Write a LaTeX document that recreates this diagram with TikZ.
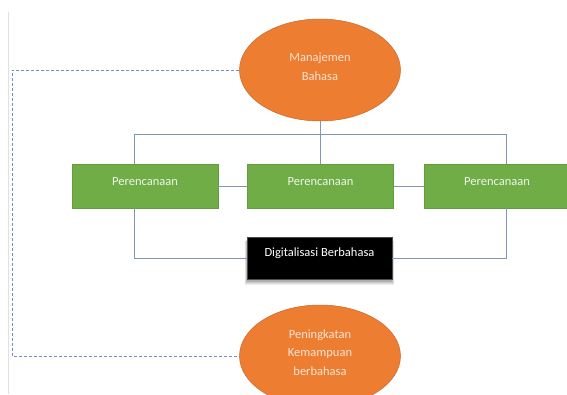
\documentclass[tikz,border=0pt]{standalone}
\usepackage{fontspec}
\setmainfont{Carlito}
\usetikzlibrary{shapes.geometric}
\definecolor{offorange}{HTML}{ED7D31}
\definecolor{offorangedk}{HTML}{C9682A}
\definecolor{offgreen}{HTML}{70AD47}
\definecolor{linecol}{HTML}{7F97B5}
\definecolor{dashcol}{HTML}{6F8CC4}
\definecolor{elltext}{HTML}{FCE4D6}
\definecolor{boxtext}{HTML}{EEF5E8}
\tikzset{
  ell/.style={ellipse, fill=offorange, draw=offorangedk, line width=0.5pt, minimum width=161pt, minimum height=102pt, inner sep=0pt},
  gbox/.style={rectangle, fill=offgreen, draw=offgreen!90!black, line width=0.4pt, minimum width=146pt, minimum height=44pt, inner sep=0pt},
  dbox/.style={rectangle, fill=black, draw=black!70, line width=0.4pt, minimum width=145pt, minimum height=42pt, inner sep=0pt},
  softshadow/.style={fill=black, opacity=0.07},
  txt/.style={align=center, font=\fontsize{12.5}{18.5}\selectfont, inner sep=0pt},
  conn/.style={draw=linecol, line width=0.8pt},
  dconn/.style={draw=dashcol, line width=0.7pt, dash pattern=on 3pt off 2pt}
}
\begin{document}
\begin{tikzpicture}[x=1pt,y=-1pt]
\useasboundingbox (0,0) rectangle (567,394);
\clip (0,0) rectangle (567,394);
\fill[white] (0,0) rectangle (567,394);
% faint page edge
\draw[draw=black!12, line width=0.8pt] (8,12) -- (8,394);

% soft shadow under the black box
\foreach \e in {0,1,2,3,4}{
  \fill[softshadow] (247.0-\e*0.6,239+\e*0.5) rectangle (392.0+\e*0.6,281.5+\e*0.8);
}

% shapes
\node[ell] (top) at (320,70) {};
\node[ell] (bot) at (320,356) {};
\node[gbox] (L) at (145,186) {};
\node[gbox] (M) at (320.5,186) {};
\node[gbox] (R) at (497,186) {};
\node[dbox] (D) at (319.5,258) {};

% texts
\node[txt, text=elltext] (topt) at ([yshift=3.5pt]top.center) {Manajemen\\Bahasa};
\node[txt, text=elltext] (bott) at ([yshift=3.5pt]bot.center) {Peningkatan\\Kemampuan\\berbahasa};
\node[txt, text=boxtext] (Lt) at ([yshift=4.5pt]L.center) {Perencanaan};
\node[txt, text=boxtext] (Mt) at ([yshift=4.5pt]M.center) {Perencanaan};
\node[txt, text=boxtext] (Rt) at ([yshift=4.5pt]R.center) {Perencanaan};
\node[txt, text=white] (Dt) at ([yshift=5pt]D.center) {Digitalisasi Berbahasa};

% junctions
\coordinate (jL) at (134,134.5);
\coordinate (jR) at (506,134.5);
\coordinate (dl1) at (12,70);
\coordinate (dl2) at (12,356);

% connectors
\draw[conn] (top.south) -- (top.south |- jL);
\draw[conn] (jL |- L.north) -- (jL) -- (jR) -- (jR |- R.north);
\draw[conn] (top.south |- jL) -- (M.north -| top.south);
\draw[conn] (L.east) -- (M.west);
\draw[conn] (M.east) -- (R.west);
\draw[conn] (jL |- L.south) -- (jL |- D.west) -- (D.west);
\draw[conn] (jR |- R.south) -- (jR |- D.east) -- (D.east);

% dashed loop
\draw[dconn] (top.west) -- (dl1) -- (dl2) -- (bot.west);
\end{tikzpicture}
\end{document}
